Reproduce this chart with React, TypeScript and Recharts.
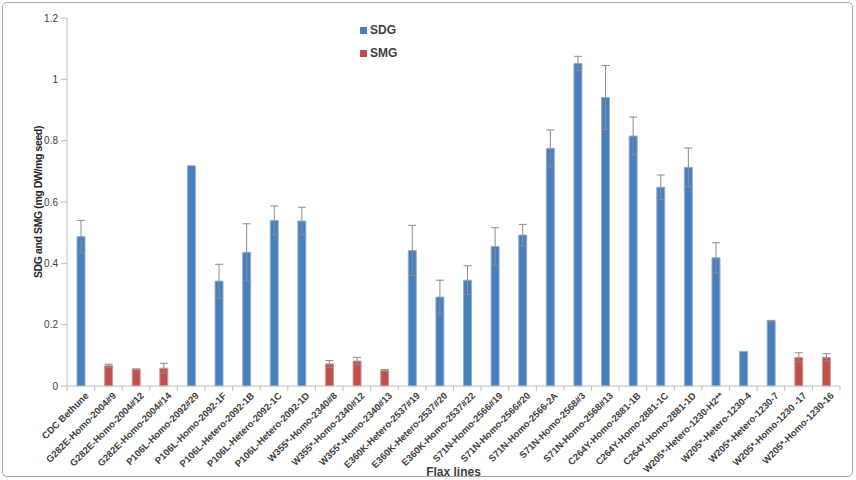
import React from 'react';
import { BarChart, Bar, XAxis, YAxis, ErrorBar, Label } from 'recharts';

const categories = [
  'CDC Bethune',
  'G282E-Homo-2004#9',
  'G282E-Homo-2004#12',
  'G282E-Homo-2004#14',
  'P106L-Homo-2092#29',
  'P106L-Homo-2092-1F',
  'P106L-Hetero-2092-1B',
  'P106L-Hetero-2092-1C',
  'P106L-Hetero-2092-1D',
  'W355*-Homo-2340#8',
  'W355*-Homo-2340#12',
  'W355*-Homo-2340#13',
  'E360K-Hetero-2537#19',
  'E360K-Hetero-2537#20',
  'E360K-Homo-2537#22',
  'S71N-Homo-2566#19',
  'S71N-Homo-2566#20',
  'S71N-Homo-2566-2A',
  'S71N-Homo-2568#3',
  'S71N-Homo-2568#13',
  'C264Y-Homo-2881-1B',
  'C264Y-Homo-2881-1C',
  'C264Y-Homo-2881-1D',
  'W205*-Hetero-1230-H2**',
  'W205*-Hetero-1230-4',
  'W205*-Hetero-1230-7',
  'W205*-Homo-1230 -17',
  'W205*-Homo-1230-16',
];

const sdg = [
  0.487, null, null, null, 0.718, 0.342, 0.436, 0.54, 0.538, null, null, null,
  0.442, 0.29, 0.345, 0.455, 0.492, 0.775, 1.052, 0.941, 0.815, 0.648, 0.713,
  0.418, 0.113, 0.212, null, null,
];
const sdgErr = [
  0.053, null, null, null, null, 0.055, 0.093, 0.047, 0.045, null, null, null,
  0.082, 0.055, 0.047, 0.061, 0.035, 0.06, 0.023, 0.104, 0.062, 0.04, 0.063,
  0.049, null, 0.002, null, null,
];
const smg = [
  null, 0.066, 0.054, 0.058, null, null, null, null, null, 0.072, 0.0815, 0.051,
  null, null, null, null, null, null, null, null, null, null, null,
  null, null, null, 0.0935, 0.0935,
];
const smgErr = [
  null, 0.005, 0.002, 0.016, null, null, null, null, null, 0.011, 0.012, 0.003,
  null, null, null, null, null, null, null, null, null, null, null,
  null, null, null, 0.015, 0.012,
];
const yTicks = [0, 0.2, 0.4, 0.6, 0.8, 1, 1.2];
const legendItems = [
  { name: 'SDG', color: '#4a7ebb' },
  { name: 'SMG', color: '#c0504d' },
];

const data = categories.map((name, i) => ({
  name,
  SDG: sdg[i],
  sdgErr: sdgErr[i],
  SMG: smg[i],
  smgErr: smgErr[i],
}));

const W = 856;
const H = 480;
const M = { top: 18, right: 16, left: 0, bottom: 0 };
const Y_W = 67;
const X_H = 94;
const BAND = (W - M.left - M.right - Y_W) / categories.length;
const FONT = "'Liberation Sans', Arial, sans-serif";

const XTick = (props: any) => {
  const { x, y, payload, index } = props;
  const half = BAND / 2;
  return (
    <g transform={`translate(${x},${y})`}>
      <line x1={-half} x2={-half} y1={0} y2={5} stroke="#bfbfbf" />
      {index === categories.length - 1 && (
        <line x1={half} x2={half} y1={0} y2={5} stroke="#bfbfbf" />
      )}
      <text
        transform="translate(6,8) rotate(-45)"
        textAnchor="end"
        dy="0.35em"
        fontSize={9.5}
        fontWeight="bold"
        fill="#404040"
        fontFamily={FONT}
      >
        {payload.value}
      </text>
    </g>
  );
};

const LegendBox = () => (
  <div
    style={{
      position: 'absolute',
      left: 360,
      top: 21,
      fontFamily: FONT,
      fontSize: 12,
      fontWeight: 'bold',
      color: '#404040',
    }}
  >
    {legendItems.map((it, i) => (
      <div key={it.name} style={{ display: 'flex', alignItems: 'center', height: 18, marginTop: i ? 5 : 0 }}>
        <span style={{ width: 7, height: 7, background: it.color, marginRight: 3, display: 'inline-block' }} />
        {it.name}
      </div>
    ))}
  </div>
);

export default function App() {
  return (
    <div style={{ position: 'absolute', left: 0, top: 0, width: W, height: H, background: '#fff' }}>
      <div
        style={{
          position: 'absolute',
          left: 2,
          top: 2,
          width: W - 5,
          height: H - 5,
          border: '1px solid #a6a6a6',
          borderRadius: 5,
          boxSizing: 'border-box',
        }}
      />
      <BarChart width={W} height={H} data={data} margin={M} barGap={-8} barSize={8}>
        <XAxis
          dataKey="name"
          interval={0}
          height={X_H}
          tickLine={false}
          tickSize={0}
          tickMargin={0}
          axisLine={{ stroke: '#bfbfbf' }}
          tick={<XTick />}
        >
          <Label
            value="Flax lines"
            position="insideBottom"
            offset={4}
            style={{ fontFamily: FONT, fontSize: 12, fontWeight: 'bold', fill: '#404040' }}
          />
        </XAxis>
        <YAxis
          width={Y_W}
          domain={[0, 1.2]}
          ticks={yTicks}
          interval={0}
          tickFormatter={(v: number) => String(Math.round(v * 10) / 10)}
          axisLine={{ stroke: '#bfbfbf' }}
          tickLine={{ stroke: '#bfbfbf' }}
          tickSize={6}
          tickMargin={3}
          tick={{ fontSize: 10, fill: '#404040', fontFamily: FONT }}
        >
          <Label
            value="SDG and SMG (mg DW/mg seed)"
            angle={-90}
            position="insideLeft"
            offset={38}
            style={{
              textAnchor: 'middle',
              fontFamily: FONT,
              fontSize: 10.5,
              letterSpacing: -0.4,
              fontWeight: 'bold',
              fill: '#262626',
            }}
          />
        </YAxis>
        <Bar dataKey="SDG" fill="#4a7ebb" stroke="#8eb0dc" strokeWidth={1} isAnimationActive={false}>
          <ErrorBar dataKey="sdgErr" width={4} stroke="#8c8c8c" strokeWidth={1} />
        </Bar>
        <Bar dataKey="SMG" fill="#c0504d" stroke="#dc9795" strokeWidth={1} isAnimationActive={false}>
          <ErrorBar dataKey="smgErr" width={4} stroke="#8c8c8c" strokeWidth={1} />
        </Bar>
      </BarChart>
      <LegendBox />
    </div>
  );
}
